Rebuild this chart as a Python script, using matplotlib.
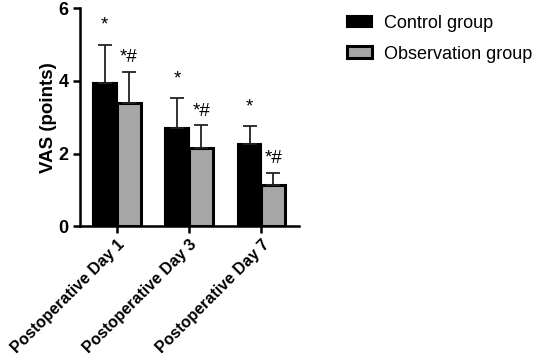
import numpy as np
import matplotlib.pyplot as plt

plt.rcParams['font.family'] = ['Liberation Sans', 'DejaVu Sans']

# Dados
categories = ["Postoperative Day 1", "Postoperative Day 3", "Postoperative Day 7"]
control_mean = [3.93, 2.71, 2.25]
control_sd = [1.07, 0.82, 0.51]
obs_mean = [3.38, 2.16, 1.13]
obs_sd = [0.87, 0.62, 0.34]
control_marks = ["*", "*", "*"]
obs_marks = ["*#", "*#", "*#"]

x = np.arange(len(categories))
w = 0.33

fig = plt.figure(figsize=(5.36, 3.63), dpi=100)
ax = fig.add_axes([0.149, 0.377, 0.409, 0.600])

ekw = dict(elinewidth=1.3, capsize=5, capthick=1.3, ecolor="#222222")
ax.bar(x - w / 2, control_mean, w, color="black", edgecolor="black", linewidth=1.5,
       yerr=[np.zeros(3), control_sd], error_kw=ekw, label="Control group", zorder=2)
ax.bar(x + w / 2, obs_mean, w, color="#a6a6a6", edgecolor="black", linewidth=2.2,
       yerr=[np.zeros(3), obs_sd], error_kw=ekw, label="Observation group", zorder=2)

for i in range(len(categories)):
    ax.text(x[i] - w / 2, control_mean[i] + control_sd[i] + 0.3, control_marks[i],
            ha="center", va="bottom", fontsize=13.5)
    ax.text(x[i] + w / 2, obs_mean[i] + obs_sd[i] + 0.15, obs_marks[i],
            ha="center", va="bottom", fontsize=13.5)

ax.set_xlim(-0.51, 2.52)
ax.set_ylim(0, 6)
ax.set_yticks([0, 2, 4, 6])
ax.set_xticks(x)
ax.set_xticklabels(categories, rotation=45, ha="right", rotation_mode="anchor",
                   fontsize=11.5, fontweight="bold")
for lab in ax.get_yticklabels():
    lab.set_fontweight("bold")
    lab.set_fontsize(13)
ax.set_ylabel("VAS (points)", fontsize=13.5, fontweight="bold", labelpad=1)

ax.spines["top"].set_visible(False)
ax.spines["right"].set_visible(False)
ax.spines["left"].set_linewidth(1.8)
ax.spines["bottom"].set_linewidth(1.8)
ax.tick_params(axis="both", width=1.8, length=5, pad=3)

ax.legend(loc="upper left", bbox_to_anchor=(347 / 536, 1 - 15 / 363),
          bbox_transform=fig.transFigure, borderpad=0, borderaxespad=0,
          frameon=False, fontsize=13, handlelength=1.4, handleheight=0.6,
          handletextpad=0.65, labelspacing=0.75)

plt.savefig("out.png", dpi=100)
